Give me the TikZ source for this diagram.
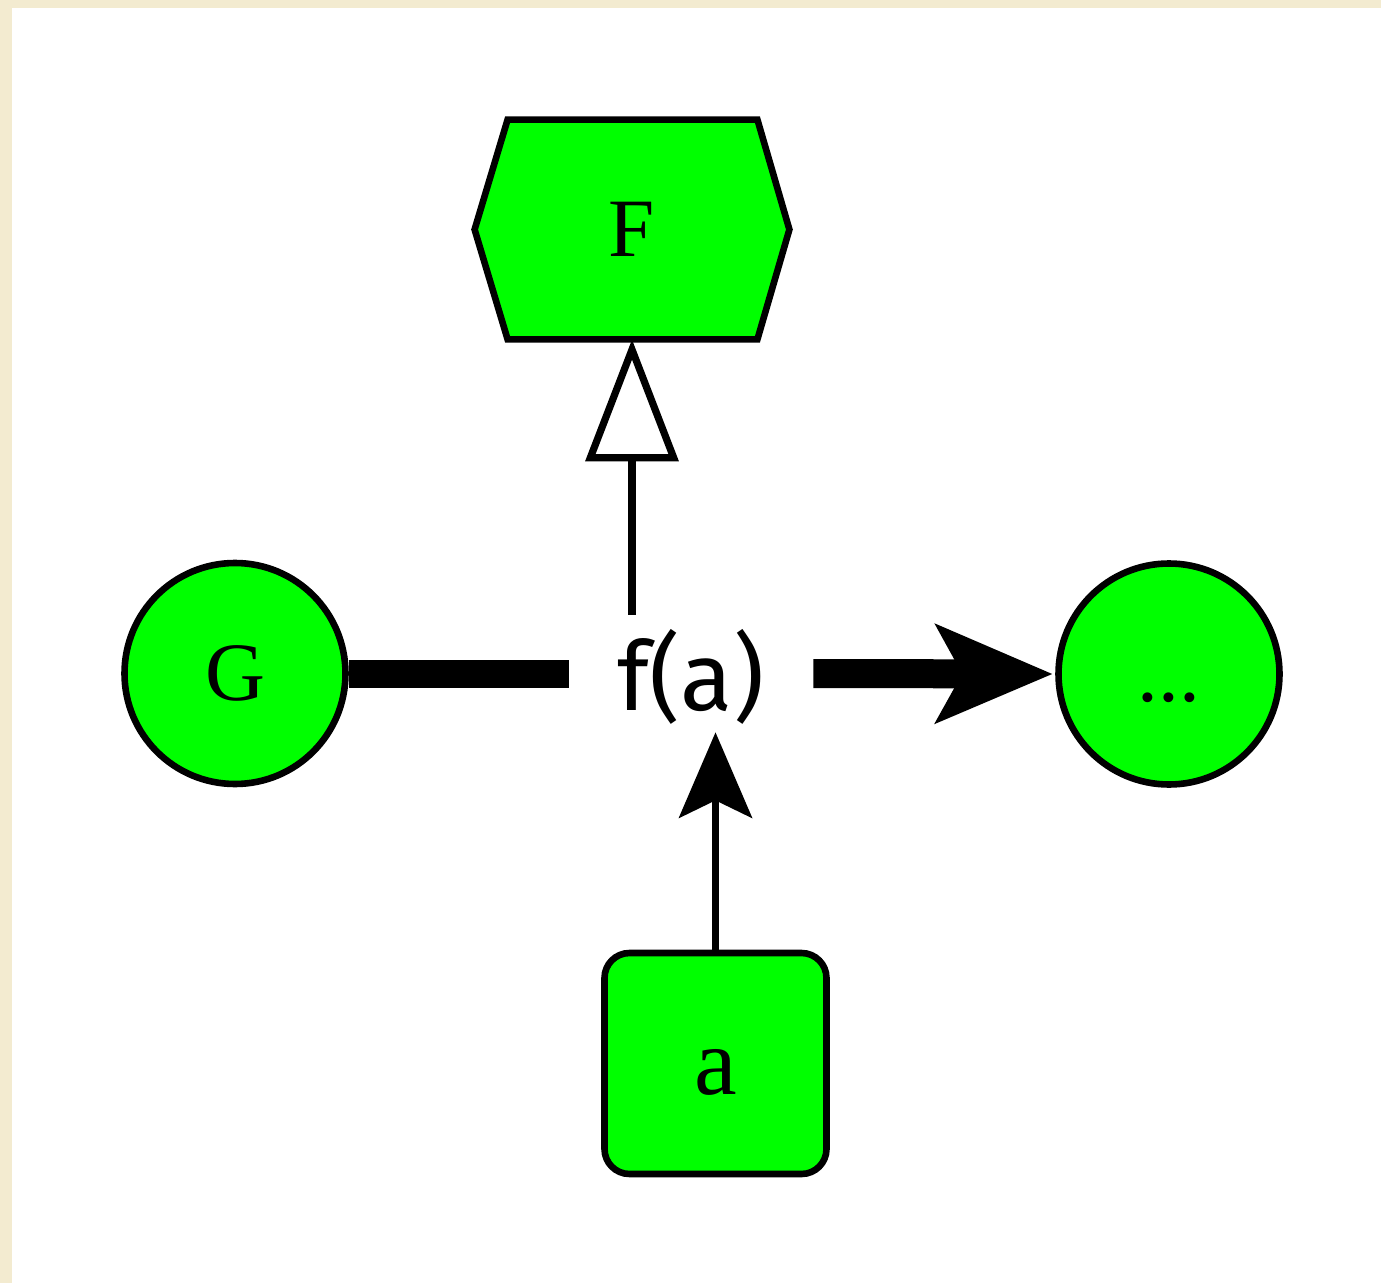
\documentclass[tikz,border=0pt]{standalone}
\usepackage{fontspec}
\newfontfamily\fafont{Fira Sans}
\newfontfamily\lblfont{Liberation Serif}
\usetikzlibrary{arrows.meta,calc}
\definecolor{beige}{RGB}{243,235,208}
\definecolor{nodegreen}{RGB}{0,255,0}
\begin{document}
\begin{tikzpicture}[x=0.5pt,y=-0.5pt,
  lbl/.style={font=\lblfont\fontsize{41.5}{48}\selectfont, text height=27pt, text depth=0pt, inner sep=0pt},
  gnode/.style={lbl, draw=black, fill=nodegreen, line width=3.3pt},
  roundnode/.style={gnode, circle, minimum size=110.5pt},
  boxnode/.style={gnode, rectangle, rounded corners=12.5pt, minimum width=111pt, minimum height=110.5pt},
  hexnode/.style={rectangle, inner sep=0pt, minimum width=157pt, minimum height=109.5pt},
  hexshape/.style={draw=black, fill=nodegreen, line width=3.3pt},
  fanode/.style={font=\fafont\fontsize{48}{56}\selectfont, text height=40pt, text depth=3.5pt,
    minimum width=122pt, minimum height=58.5pt, inner sep=0pt},
  thickline/.style={line width=14pt},
  thinline/.style={line width=3.6pt},
]
\useasboundingbox (0,0) rectangle (1381,1283);
\fill[beige] (0,0) rectangle (1381,1283);
\fill[white] (12,8) rectangle (1381,1283);

% nodes
\node[hexnode] (F) at (632,229.5) {};
\draw[hexshape] ($(F.north west)+(33,0)$) -- ($(F.north east)+(-32,0)$) -- (F.east)
  -- ($(F.south east)+(-32,0)$) -- ($(F.south west)+(33,0)$) -- (F.west) -- cycle;
\node[lbl] (Flabel) at (F.center) {F};

\node[roundnode] (G) at (235,673.5) {G};
\node[roundnode] (dots) at (1169,674) {...};
\node[boxnode, font=\lblfont\fontsize{48}{56}\selectfont, text height=31pt] (a) at (715.5,1063.5) {a};
\node[fanode] (fa) at (691,673.5) {f(a)};

% connectors
\draw[thickline] (G.east) -- (fa.west);
\draw[line width=14.5pt, shorten >=1.5pt,
  -{Stealth[length=59pt,width=50.5pt,inset=14pt,line width=0pt]}] (fa.east) -- (dots.west);
\draw[thinline, -{Triangle[open,length=61pt,width=46pt]}] (F.south |- fa.north) -- (F.south);
\draw[thinline, -{Stealth[length=43pt,width=37pt,inset=9pt,line width=0pt]}] (a.north) -- (a.north |- fa.south);
\end{tikzpicture}
\end{document}
